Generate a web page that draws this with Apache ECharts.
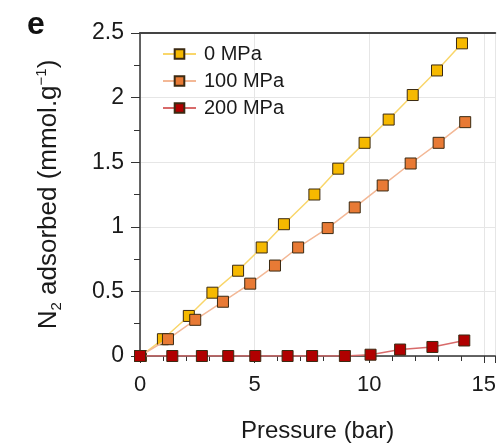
<!DOCTYPE html>
<html>
<head>
<meta charset="utf-8">
<script src="https://cdn.jsdelivr.net/npm/echarts@6/dist/echarts.min.js"></script>
<style>
  html, body { margin: 0; padding: 0; background: #fff; }
  #chart { width: 499px; height: 448px; }
</style>
</head>
<body>
<div id="chart"></div>
<script>
// series names
var seriesNames = ['0 MPa', '100 MPa', '200 MPa'];

// pressure (bar) / N2 adsorbed (mmol/g)
var p0 = [0.04, 1.0, 2.13, 3.16, 4.28, 5.31, 6.28, 7.61, 8.65, 9.80, 10.85, 11.9, 12.96, 14.05];
var q0 = [0, 0.13, 0.31, 0.49, 0.66, 0.84, 1.02, 1.25, 1.45, 1.65, 1.83, 2.02, 2.21, 2.42];

var p100 = [0, 1.22, 2.41, 3.62, 4.81, 5.89, 6.90, 8.19, 9.37, 10.59, 11.81, 13.03, 14.19];
var q100 = [0, 0.13, 0.28, 0.42, 0.56, 0.70, 0.84, 0.99, 1.15, 1.32, 1.49, 1.65, 1.81];

var p200 = [0, 1.41, 2.70, 3.85, 5.03, 6.44, 7.51, 8.94, 10.06, 11.35, 12.76, 14.15];
var q200 = [0, 0, 0, 0, 0, 0, 0, 0, 0.01, 0.05, 0.07, 0.12];

var fillColors = ['#f6b900', '#e87a35', '#b00000'];
var lineColors = ['#f9d66a', '#f3b896', '#d86a6a'];

function pairs(xs, ys) {
    var out = [];
    for (var i = 0; i < xs.length; i++) out.push([xs[i], ys[i]]);
    return out;
}

var allData = [pairs(p0, q0), pairs(p100, q100), pairs(p200, q200)];

// later series are drawn on top, as in the original
var series = seriesNames.map(function (name, i) {
    return {
        name: name,
        type: 'line',
        symbol: 'rect',
        symbolSize: 11,
        z: 10 + i,
        itemStyle: {
            color: fillColors[i],
            borderColor: '#3b2a12',
            borderWidth: 1
        },
        lineStyle: { color: lineColors[i], width: 1.5 },
        data: allData[i]
    };
});

var FONT = 'Liberation Sans, Arial, sans-serif';

var option = {
    animation: false,
    backgroundColor: '#fff',
    title: {
        text: 'e',
        left: 22,
        top: 4,
        textStyle: { fontFamily: FONT, fontSize: 32, fontWeight: 'bold', color: '#111' }
    },
    legend: {
        data: seriesNames,
        orient: 'vertical',
        left: 157,
        top: 39,
        itemWidth: 33,
        itemHeight: 12,
        itemGap: 7,
        textStyle: { fontFamily: FONT, fontSize: 20, color: '#1a1a1a', padding: [0, 0, 0, 3] }
    },
    grid: { left: 140, right: 0, top: 33, bottom: 79, containLabel: false },
    xAxis: [
        {
            type: 'value',
            min: 0,
            max: 15.5,
            interval: 5,
            name: 'Pressure (bar)',
            nameLocation: 'middle',
            nameGap: 63,
            nameTextStyle: { fontFamily: FONT, fontSize: 24, color: '#1a1a1a' },
            axisLine: { show: true, onZero: false, lineStyle: { color: '#333', width: 1.5 } },
            axisTick: { show: true, length: 7, lineStyle: { color: '#333' } },
            minorTick: { show: true, splitNumber: 5, length: 5, lineStyle: { color: '#333' } },
            axisLabel: { margin: 18, showMaxLabel: false, fontFamily: FONT, fontSize: 22, color: '#1a1a1a' },
            splitLine: { show: true, lineStyle: { color: '#e6e6e6', width: 1 } }
        },
        {
            type: 'value',
            position: 'top',
            min: 0,
            max: 15.5,
            axisLine: { show: true, onZero: false, lineStyle: { color: '#444', width: 2 } },
            axisTick: { show: false },
            axisLabel: { show: false },
            splitLine: { show: false }
        }
    ],
    yAxis: {
        type: 'value',
        min: 0,
        max: 2.5,
        interval: 0.5,
        name: '{a|N}{sub|2}{a| adsorbed (mmol.g}{sup|−1}{a|)}',
        nameLocation: 'middle',
        nameGap: 76,
        nameRotate: 90,
        nameTextStyle: {
            color: '#1a1a1a',
            rich: {
                a: { fontFamily: FONT, fontSize: 26, lineHeight: 30, color: '#1a1a1a' },
                sub: { fontFamily: FONT, fontSize: 15, lineHeight: 15, verticalAlign: 'bottom', color: '#1a1a1a' },
                sup: { fontFamily: FONT, fontSize: 15, lineHeight: 15, verticalAlign: 'top', color: '#1a1a1a' }
            }
        },
        axisLine: { show: true, lineStyle: { color: '#333', width: 1.5 } },
        axisTick: { show: true, length: 9, lineStyle: { color: '#333' } },
        minorTick: { show: true, splitNumber: 2, length: 6, lineStyle: { color: '#333' } },
        axisLabel: { margin: 16, fontFamily: FONT, fontSize: 23, color: '#1a1a1a' },
        splitLine: { show: true, lineStyle: { color: '#e6e6e6', width: 1 } }
    },
    series: series
};

var myChart = echarts.init(document.getElementById('chart'));
myChart.setOption(option, true);
</script>
</body>
</html>
